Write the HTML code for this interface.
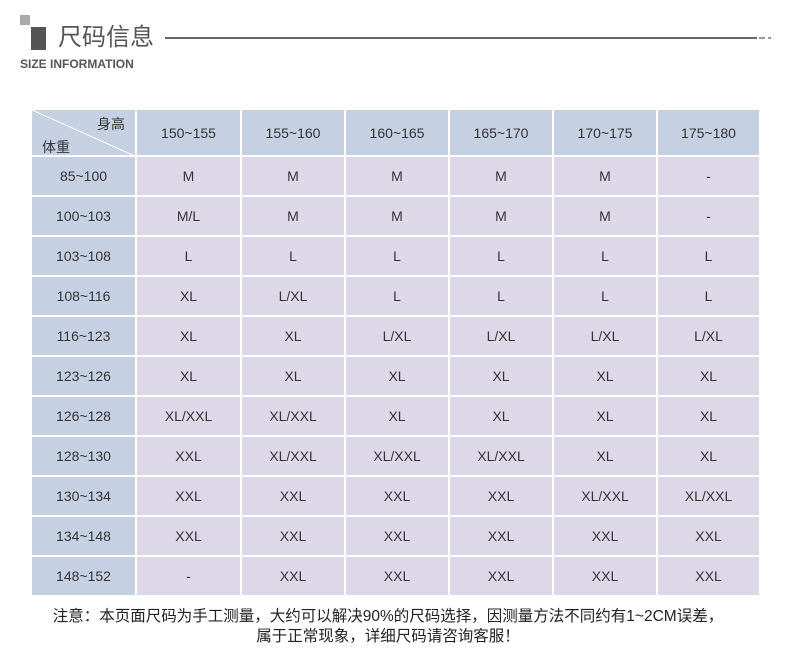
<!DOCTYPE html><html><head><meta charset="utf-8"><style>
body{margin:0;width:790px;height:672px;background:#fff;font-family:"Liberation Sans","Noto Sans CJK SC",sans-serif;position:relative;overflow:hidden}
.a{position:absolute}
table{position:absolute;left:30px;top:108px;border-collapse:collapse;table-layout:fixed}
td{border:2px solid #fff;height:38px;text-align:center;font-size:14px;color:#333;background:#dcd8e8;padding:0}
td.h{background:#c6d0e3}
tr:first-child td{height:45px}
</style></head><body>
<div class="a" style="left:20px;top:15px;width:10px;height:10px;background:#aaa"></div>
<div class="a" style="left:31px;top:27px;width:15px;height:23px;background:#555"></div>
<div class="a" style="left:58px;top:22px;font-size:24px;color:#555;line-height:32px">尺码信息</div>
<div class="a" style="left:165px;top:37px;width:592px;height:2px;background:#666"></div>
<div class="a" style="left:759px;top:37px;width:6px;height:2px;background:#999"></div>
<div class="a" style="left:768px;top:37px;width:3px;height:2px;background:#999"></div>
<div class="a" style="left:20px;top:57px;font-size:12px;font-weight:bold;color:#555">SIZE INFORMATION</div>
<table>
<colgroup><col style="width:105px"><col style="width:105px"><col style="width:104px"><col style="width:104px"><col style="width:104px"><col style="width:104px"><col style="width:103px"></colgroup>
<tr><td class="h" style="position:relative"><svg class="a" style="left:0;top:0" width="105" height="47"><line x1="0" y1="0" x2="105" y2="47" stroke="#fff" stroke-width="1"/></svg><span class="a" style="right:10px;top:4px">身高</span><span class="a" style="left:10px;top:27px">体重</span></td><td class="h">150~155</td><td class="h">155~160</td><td class="h">160~165</td><td class="h">165~170</td><td class="h">170~175</td><td class="h">175~180</td></tr>
<tr><td class="h">85~100</td><td>M</td><td>M</td><td>M</td><td>M</td><td>M</td><td>-</td></tr>
<tr><td class="h">100~103</td><td>M/L</td><td>M</td><td>M</td><td>M</td><td>M</td><td>-</td></tr>
<tr><td class="h">103~108</td><td>L</td><td>L</td><td>L</td><td>L</td><td>L</td><td>L</td></tr>
<tr><td class="h">108~116</td><td>XL</td><td>L/XL</td><td>L</td><td>L</td><td>L</td><td>L</td></tr>
<tr><td class="h">116~123</td><td>XL</td><td>XL</td><td>L/XL</td><td>L/XL</td><td>L/XL</td><td>L/XL</td></tr>
<tr><td class="h">123~126</td><td>XL</td><td>XL</td><td>XL</td><td>XL</td><td>XL</td><td>XL</td></tr>
<tr><td class="h">126~128</td><td>XL/XXL</td><td>XL/XXL</td><td>XL</td><td>XL</td><td>XL</td><td>XL</td></tr>
<tr><td class="h">128~130</td><td>XXL</td><td>XL/XXL</td><td>XL/XXL</td><td>XL/XXL</td><td>XL</td><td>XL</td></tr>
<tr><td class="h">130~134</td><td>XXL</td><td>XXL</td><td>XXL</td><td>XXL</td><td>XL/XXL</td><td>XL/XXL</td></tr>
<tr><td class="h">134~148</td><td>XXL</td><td>XXL</td><td>XXL</td><td>XXL</td><td>XXL</td><td>XXL</td></tr>
<tr><td class="h">148~152</td><td>-</td><td>XXL</td><td>XXL</td><td>XXL</td><td>XXL</td><td>XXL</td></tr>
</table>
<div class="a" style="left:0;width:776px;top:607px;text-align:center;font-size:15.5px;color:#222;line-height:20px">注意：本页面尺码为手工测量，大约可以解决90%的尺码选择，因测量方法不同约有1~2CM误差，<br>属于正常现象，详细尺码请咨询客服！</div>
</body></html>
